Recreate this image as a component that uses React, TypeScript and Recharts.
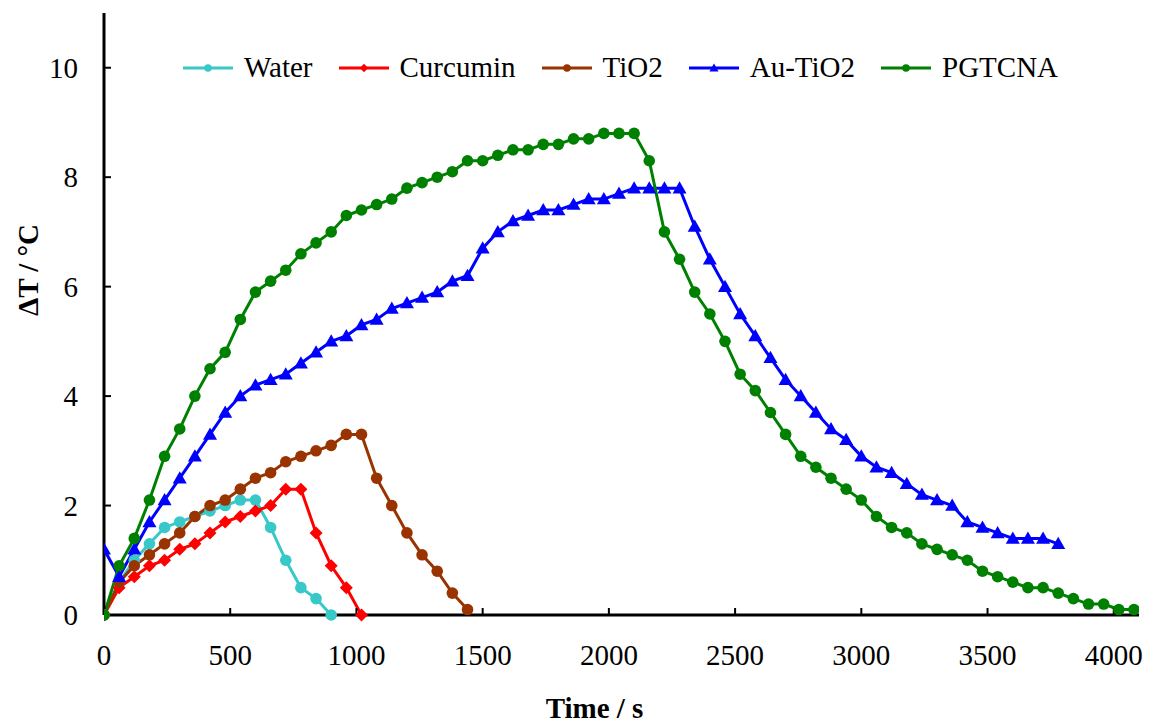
import {
  LineChart,
  Line,
  XAxis,
  YAxis,
  Legend,
  Label,
} from "recharts";

// Tempo em segundos (passo de 60 s)
const TIME = [
  0, 60, 120, 180, 240, 300, 360, 420, 480, 540, 600, 660, 720, 780, 840, 900,
  960, 1020, 1080, 1140, 1200, 1260, 1320, 1380, 1440, 1500, 1560, 1620, 1680,
  1740, 1800, 1860, 1920, 1980, 2040, 2100, 2160, 2220, 2280, 2340, 2400, 2460,
  2520, 2580, 2640, 2700, 2760, 2820, 2880, 2940, 3000, 3060, 3120, 3180, 3240,
  3300, 3360, 3420, 3480, 3540, 3600, 3660, 3720, 3780, 3840, 3900, 3960, 4020,
  4080,
];

const WATER = [0, 0.6, 1.0, 1.3, 1.6, 1.7, 1.8, 1.9, 2.0, 2.1, 2.1, 1.6, 1.0, 0.5, 0.3, 0.0];

const CURCUMIN = [0, 0.5, 0.7, 0.9, 1.0, 1.2, 1.3, 1.5, 1.7, 1.8, 1.9, 2.0, 2.3, 2.3, 1.5, 0.9, 0.5, 0.0];

const TIO2 = [
  0, 0.6, 0.9, 1.1, 1.3, 1.5, 1.8, 2.0, 2.1, 2.3, 2.5, 2.6, 2.8, 2.9, 3.0, 3.1,
  3.3, 3.3, 2.5, 2.0, 1.5, 1.1, 0.8, 0.4, 0.1,
];

const AU_TIO2 = [
  1.2, 0.7, 1.2, 1.7, 2.1, 2.5, 2.9, 3.3, 3.7, 4.0, 4.2, 4.3, 4.4, 4.6, 4.8, 5.0,
  5.1, 5.3, 5.4, 5.6, 5.7, 5.8, 5.9, 6.1, 6.2, 6.7, 7.0, 7.2, 7.3, 7.4, 7.4, 7.5,
  7.6, 7.6, 7.7, 7.8, 7.8, 7.8, 7.8, 7.1, 6.5, 6.0, 5.5, 5.1, 4.7, 4.3, 4.0, 3.7,
  3.4, 3.2, 2.9, 2.7, 2.6, 2.4, 2.2, 2.1, 2.0, 1.7, 1.6, 1.5, 1.4, 1.4, 1.4, 1.3,
];

const PGTCNA = [
  0, 0.9, 1.4, 2.1, 2.9, 3.4, 4.0, 4.5, 4.8, 5.4, 5.9, 6.1, 6.3, 6.6, 6.8, 7.0,
  7.3, 7.4, 7.5, 7.6, 7.8, 7.9, 8.0, 8.1, 8.3, 8.3, 8.4, 8.5, 8.5, 8.6, 8.6, 8.7,
  8.7, 8.8, 8.8, 8.8, 8.3, 7.0, 6.5, 5.9, 5.5, 5.0, 4.4, 4.1, 3.7, 3.3, 2.9, 2.7,
  2.5, 2.3, 2.1, 1.8, 1.6, 1.5, 1.3, 1.2, 1.1, 1.0, 0.8, 0.7, 0.6, 0.5, 0.5, 0.4,
  0.3, 0.2, 0.2, 0.1, 0.1,
];

const X_TICKS = [0, 500, 1000, 1500, 2000, 2500, 3000, 3500, 4000];
const Y_TICKS = [0, 2, 4, 6, 8, 10];

type Shape = "circle" | "diamond" | "triangle";

const SERIES: { key: string; name: string; values: number[]; color: string; shape: Shape }[] = [
  { key: "water", name: "Water", values: WATER, color: "#38C8C8", shape: "circle" },
  { key: "curcumin", name: "Curcumin", values: CURCUMIN, color: "#FF0000", shape: "diamond" },
  { key: "tio2", name: "TiO2", values: TIO2, color: "#993300", shape: "circle" },
  { key: "autio2", name: "Au-TiO2", values: AU_TIO2, color: "#0000FF", shape: "triangle" },
  { key: "pgtcna", name: "PGTCNA", values: PGTCNA, color: "#008000", shape: "circle" },
];

const data = TIME.map((t, i) => {
  const row: Record<string, number> = { t };
  for (const s of SERIES) {
    if (i < s.values.length) row[s.key] = s.values[i];
  }
  return row;
});

const FONT = "Liberation Serif, DejaVu Serif, serif";

function Marker({ shape, cx, cy, color, scale = 1 }: { shape: Shape; cx: number; cy: number; color: string; scale?: number }) {
  if (cx == null || cy == null) return null;
  if (shape === "diamond") {
    const r = 6.5 * scale;
    return <path d={`M${cx},${cy - r}L${cx + r},${cy}L${cx},${cy + r}L${cx - r},${cy}Z`} fill={color} />;
  }
  if (shape === "triangle") {
    const r = 7 * scale;
    return <path d={`M${cx},${cy - r}L${cx + r},${cy + r * 0.75}L${cx - r},${cy + r * 0.75}Z`} fill={color} />;
  }
  return <circle cx={cx} cy={cy} r={5.8 * scale} fill={color} />;
}

function LegendBox() {
  return (
    <div style={{ display: "flex", alignItems: "center", fontFamily: FONT, fontSize: 29, color: "#000", whiteSpace: "nowrap" }}>
      {SERIES.map((s) => (
        <div key={s.key} style={{ display: "flex", alignItems: "center", marginRight: 26 }}>
          <svg width={50} height={20} style={{ marginRight: 11 }}>
            <line x1={0} y1={10} x2={50} y2={10} stroke={s.color} strokeWidth={3} />
            <Marker shape={s.shape} cx={25} cy={10} color={s.color} scale={0.65} />
          </svg>
          <span>{s.name}</span>
        </div>
      ))}
    </div>
  );
}

export default function App() {
  return (
    <div style={{ position: "absolute", left: 0, top: 0, background: "#fff", fontFamily: FONT }}>
      <LineChart
        width={1149}
        height={728}
        data={data}
        margin={{ top: 13, right: 10, left: 0, bottom: 0 }}
        style={{ fontFamily: FONT }}
      >
        <XAxis
          dataKey="t"
          type="number"
          domain={[0, 4100]}
          ticks={X_TICKS}
          allowDataOverflow
          height={113}
          axisLine={{ stroke: "#000", strokeWidth: 3 }}
          tickLine={{ stroke: "#000", strokeWidth: 2 }}
          tickSize={-7}
          tickMargin={36}
          tick={{ fill: "#000", fontSize: 29, fontFamily: FONT }}
          interval={0}
        >
          <Label
            content={({ viewBox }: any) => (
              <text
                x={viewBox.x + viewBox.width / 2 - 27}
                y={718}
                textAnchor="middle"
                fontFamily={FONT}
                fontWeight="bold"
                fontSize={29}
                fill="#000"
              >
                Time / s
              </text>
            )}
          />
        </XAxis>
        <XAxis
          xAxisId="top"
          orientation="top"
          type="number"
          domain={[0, 4100]}
          height={0}
          tick={false}
          tickLine={false}
          axisLine={{ stroke: "#000", strokeWidth: 3 }}
        />
        <YAxis
          type="number"
          domain={[0, 11]}
          ticks={Y_TICKS}
          width={104}
          axisLine={{ stroke: "#000", strokeWidth: 3 }}
          tickLine={{ stroke: "#000", strokeWidth: 2 }}
          tickSize={-7}
          tickMargin={33}
          tick={{ fill: "#000", fontSize: 29, fontFamily: FONT }}
          interval={0}
        >
          <Label
            content={() => (
              <text
                x={0}
                y={0}
                transform="translate(38, 270) rotate(-90)"
                textAnchor="middle"
                fontFamily={FONT}
                fontWeight="bold"
                fontSize={29}
                fill="#000"
              >
                ΔT / °C
              </text>
            )}
          />
        </YAxis>
        <YAxis
          yAxisId="right"
          orientation="right"
          type="number"
          domain={[0, 11]}
          width={0}
          tick={false}
          tickLine={false}
          axisLine={{ stroke: "#000", strokeWidth: 3 }}
        />
        <Legend
          layout="horizontal"
          verticalAlign="middle"
          align="center"
          content={() => <LegendBox />}
          wrapperStyle={{ top: 51, left: 183, width: "auto" }}
        />
        {SERIES.map((s) => (
          <Line
            key={s.key}
            dataKey={s.key}
            name={s.name}
            stroke={s.color}
            strokeWidth={3}
            isAnimationActive={false}
            dot={(p: any) => (
              <Marker key={`${s.key}-${p.index}`} shape={s.shape} cx={p.cx} cy={p.cy} color={s.color} />
            )}
            activeDot={false}
          />
        ))}
      </LineChart>
    </div>
  );
}
